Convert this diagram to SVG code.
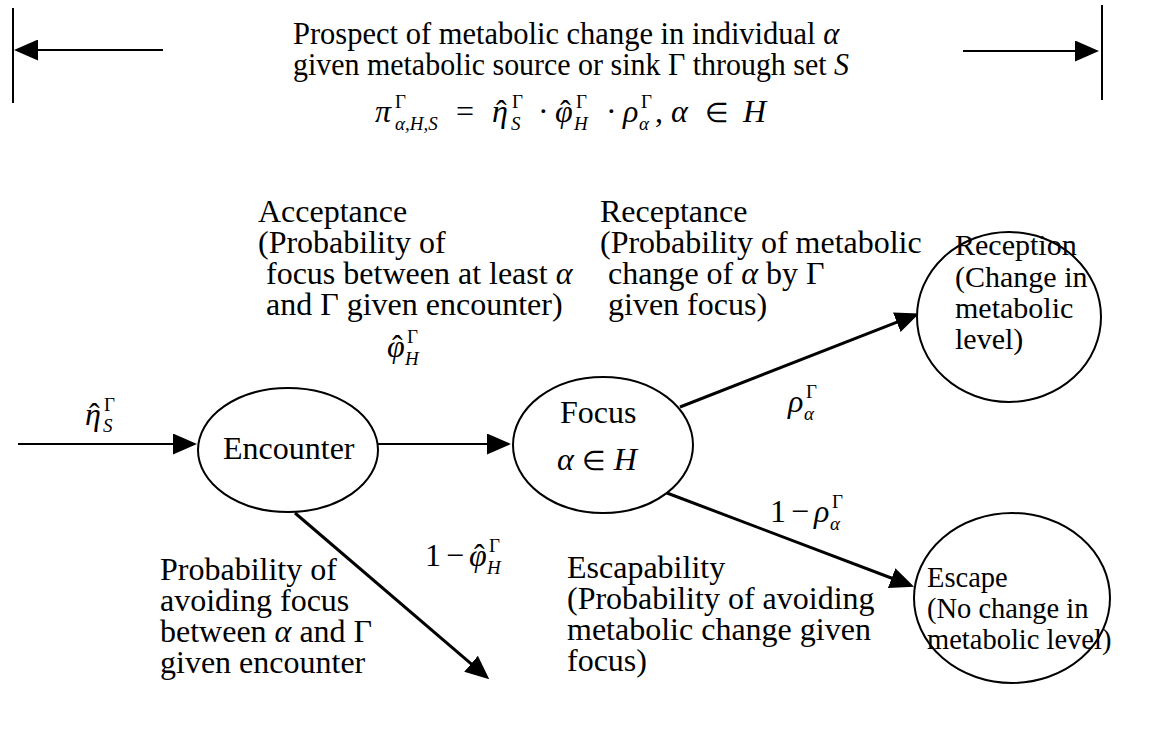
<svg xmlns="http://www.w3.org/2000/svg" width="1160" height="731" viewBox="0 0 1160 731">
<style>
.t{font-family:"Liberation Serif","Times New Roman",serif;font-size:32px;fill:#000}
.h{font-size:30.5px}
.r{font-size:30px}
.e{font-size:28.5px}
.i{font-style:italic}
.s{font-size:19px}
.el{font-size:27px}
.ln{stroke:#000;stroke-width:2;fill:none}
.ld{stroke:#000;stroke-width:3;fill:none}
.nd{stroke:#000;stroke-width:2;fill:#fff}
</style>
<defs>
<marker id="ah" markerWidth="24" markerHeight="21" refX="1" refY="10.5" orient="auto" markerUnits="userSpaceOnUse"><path d="M0,0 L24,10.5 L0,21 z" fill="#000"/></marker>
</defs>
<g id="header">
<line class="ln" x1="13" y1="8" x2="13" y2="103"/>
<line class="ln" x1="1102" y1="5" x2="1102" y2="100"/>
<text class="t h" x="293" y="44">Prospect of metabolic change in individual <tspan class="i">α</tspan></text>
<text class="t h" x="293" y="75" textLength="556" lengthAdjust="spacingAndGlyphs">given metabolic source or sink Γ through set <tspan class="i">S</tspan></text>
</g>
<g id="formula">
<text class="t i" x="375" y="122">π</text>
<text class="t s" x="395" y="108">Γ</text>
<text class="t s i" x="395" y="130">α,H,S</text>
<text class="t" x="456" y="122">=</text>
<text class="t i" x="492" y="122">η</text>
<text class="t" x="496" y="122">ˆ</text>
<text class="t s" x="512" y="108">Γ</text>
<text class="t s i" x="511" y="130">S</text>
<text class="t" x="538" y="122">·</text>
<text class="t i" x="555" y="122">φ</text>
<text class="t" x="560" y="122">ˆ</text>
<text class="t s" x="576" y="108">Γ</text>
<text class="t s i" x="574" y="130">H</text>
<text class="t" x="606" y="122">·</text>
<text class="t i" x="623" y="122">ρ</text>
<text class="t s" x="641" y="108">Γ</text>
<text class="t s i" x="639" y="130">α</text>
<text class="t" x="655" y="122">,</text>
<text class="t i" x="671" y="122">α</text>
<text class="t el" x="705" y="122">∈</text>
<text class="t i" x="743" y="122">H</text>
</g>
<g id="connectors">
<line class="ln" x1="163" y1="50" x2="37" y2="50" marker-end="url(#ah)"/>
<line class="ln" x1="963" y1="51" x2="1076" y2="51" marker-end="url(#ah)"/>
<line class="ln" x1="18" y1="444" x2="174" y2="444" marker-end="url(#ah)"/>
<line class="ln" x1="378" y1="444" x2="488" y2="444" marker-end="url(#ah)"/>
<line class="ld" x1="295" y1="513" x2="471.8" y2="664.4" marker-end="url(#ah)"/>
<line class="ld" x1="680" y1="407" x2="897.7" y2="321.8" marker-end="url(#ah)"/>
<line class="ld" x1="667" y1="493" x2="892.6" y2="578.5" marker-end="url(#ah)"/>
</g>
<g id="encounter">
<ellipse class="nd" cx="288" cy="450" rx="90" ry="62"/>
<text class="t" x="223" y="459">Encounter</text>
</g>
<g id="focus">
<ellipse class="nd" cx="603" cy="445" rx="90" ry="68"/>
<text class="t" x="560" y="423">Focus</text>
<text class="t" x="557" y="470"><tspan class="i">α</tspan> <tspan class="el">∈</tspan> <tspan class="i">H</tspan></text>
</g>
<g id="reception">
<ellipse class="nd" cx="1009" cy="317" rx="92" ry="85"/>
<text class="t r" x="955" y="255">Reception</text>
<text class="t r" x="955" y="287">(Change in</text>
<text class="t r" x="955" y="318">metabolic</text>
<text class="t r" x="955" y="349">level)</text>
</g>
<g id="escape">
<ellipse class="nd" cx="1012" cy="598" rx="98" ry="85"/>
<text class="t e" x="927" y="587">Escape</text>
<text class="t e" x="927" y="618">(No change in</text>
<text class="t e" x="927" y="649">metabolic level)</text>
</g>
<g id="labels">
<text class="t" x="258" y="222">Acceptance</text>
<text class="t" x="258" y="253">(Probability of</text>
<text class="t" x="266" y="284">focus between at least <tspan class="i">α</tspan></text>
<text class="t" x="266" y="315">and Γ given encounter)</text>
<text class="t" x="600" y="222">Receptance</text>
<text class="t" x="600" y="253">(Probability of metabolic</text>
<text class="t" x="608" y="284">change of <tspan class="i">α</tspan> by Γ</text>
<text class="t" x="608" y="315">given focus)</text>
<text class="t" x="160" y="580">Probability of</text>
<text class="t" x="160" y="611">avoiding focus</text>
<text class="t" x="160" y="642">between <tspan class="i">α</tspan> and Γ</text>
<text class="t" x="160" y="673">given encounter</text>
<text class="t" x="567" y="578">Escapability</text>
<text class="t" x="567" y="609">(Probability of avoiding</text>
<text class="t" x="567" y="640">metabolic change given</text>
<text class="t" x="567" y="671">focus)</text>
<text class="t i" x="85" y="425">η</text>
<text class="t" x="89" y="425">ˆ</text>
<text class="t s" x="104" y="411">Γ</text>
<text class="t s i" x="103" y="432">S</text>
<text class="t i" x="387" y="357">φ</text>
<text class="t" x="392" y="357">ˆ</text>
<text class="t s" x="407" y="343">Γ</text>
<text class="t s i" x="405" y="365">H</text>
<text class="t i" x="788" y="412">ρ</text>
<text class="t s" x="806" y="398">Γ</text>
<text class="t s i" x="804" y="420">α</text>
<text class="t" x="770" y="522">1</text>
<text class="t" x="791" y="522">−</text>
<text class="t i" x="814" y="522">ρ</text>
<text class="t s" x="832" y="508">Γ</text>
<text class="t s i" x="830" y="530">α</text>
<text class="t" x="425" y="566">1</text>
<text class="t" x="446" y="566">−</text>
<text class="t i" x="469" y="566">φ</text>
<text class="t" x="474" y="566">ˆ</text>
<text class="t s" x="489" y="552">Γ</text>
<text class="t s i" x="487" y="574">H</text>
</g>
</svg>
